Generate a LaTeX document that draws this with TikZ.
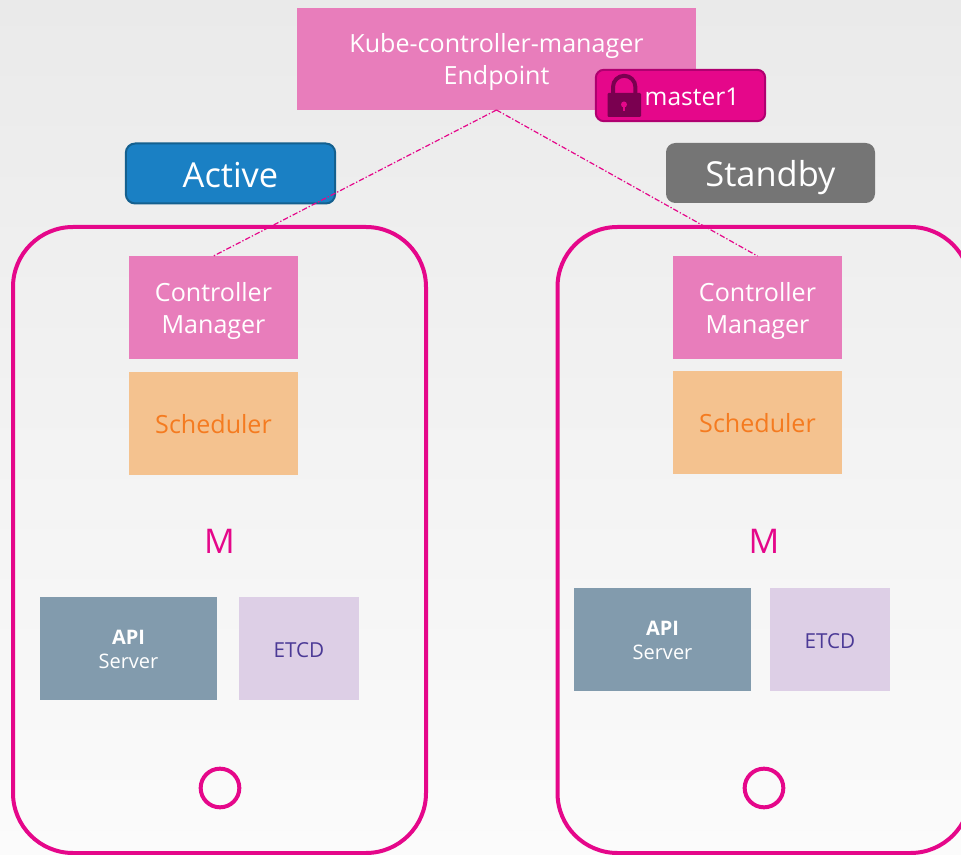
\documentclass[tikz,border=0pt]{standalone}
\usepackage{fontspec}
\setmainfont{Open Sans}
\definecolor{pinkbox}{HTML}{E87DBB}
\definecolor{orangebox}{HTML}{F4C28F}
\definecolor{orangetext}{HTML}{F47B20}
\definecolor{magentaline}{HTML}{E5078A}
\definecolor{steelbox}{HTML}{829BAD}
\definecolor{lilacbox}{HTML}{DDCFE6}
\definecolor{lilactext}{HTML}{4B3A96}
\definecolor{activeblue}{HTML}{1A80C4}
\definecolor{activeedge}{HTML}{14608F}
\definecolor{standbygray}{HTML}{757575}
\definecolor{lockdark}{HTML}{7A0050}
\definecolor{lockedge}{HTML}{B00070}
\definecolor{bgtop}{HTML}{EAEAEA}
\definecolor{bgbottom}{HTML}{FBFBFB}
\newcommand{\toprule}[1]{\rule{0pt}{#1}}
\tikzset{
  box/.style={inner sep=0pt, outer sep=0pt, align=center, text=white,
    font=\fontsize{18.8}{24}\selectfont},
  phoneframe/.style={draw=magentaline, line width=3pt, rounded corners=45pt,
    minimum width=309.75pt, minimum height=469.5pt, inner sep=0pt},
  managerbox/.style={box, fill=pinkbox, minimum width=126.75pt, minimum height=77.25pt},
  schedbox/.style={box, fill=orangebox, text=orangetext, minimum width=126.75pt, minimum height=77.25pt},
  apibox/.style={box, fill=steelbox, minimum width=132.75pt, minimum height=77.25pt,
    font=\fontsize{15}{18}\selectfont},
  etcdbox/.style={box, fill=lilacbox, text=lilactext, minimum width=90pt, minimum height=77.25pt,
    font=\fontsize{15.5}{18}\selectfont},
  letterM/.style={text=magentaline, inner sep=0pt, font=\fontsize{25.5}{30}\selectfont},
  homebutton/.style={circle, draw=magentaline, line width=3pt, minimum size=29pt, inner sep=0pt},
  statebox/.style={box, rounded corners=7pt, minimum height=45pt, text height=21pt, text depth=0pt,
    font=\fontsize{25.8}{30}\selectfont},
  link/.style={magentaline, line width=0.9pt, dash pattern=on 4pt off 1.5pt on 1pt off 1.5pt},
}
\begin{document}
\begin{tikzpicture}[x=0.75pt, y=-0.75pt]
    \useasboundingbox (0,0) rectangle (961,855);
    % background
    \shade[top color=bgtop, bottom color=bgbottom] (0,0) rectangle (961,855);

    % phone frames
    \node[phoneframe] (frameL) at (219.5,540) {};
    \node[phoneframe] (frameR) at (764,540) {};

    % endpoint and its lock
    \node[box, fill=pinkbox, minimum width=299.25pt, minimum height=76.5pt] (endpoint) at (496.5,59)
        {\toprule{19pt}Kube-controller-manager\\Endpoint};
    \node[box, fill=magentaline, draw=lockedge, line width=1.5pt, rounded corners=6pt,
        minimum width=127pt, minimum height=38.5pt] (lockbox) at (680.5,95.5) {};
    \node[box, font=\fontsize{18.4}{24}\selectfont] (lockname) at (692,97) {master1};
    \fill[lockdark, rounded corners=0.8pt] (607.5,93) rectangle (641,117);
    \draw[lockdark, line width=3pt] (613,93) -- (613,87) arc[start angle=180, end angle=360, radius=11.2] -- (635.4,93);
    \fill[magentaline] (624,104.5) circle[radius=3];
    \fill[magentaline] (622.8,105) rectangle (625.2,111);

    % state labels
    \node[statebox, fill=activeblue, draw=activeedge, line width=1.5pt,
        minimum width=157pt] (active) at (230.5,173.5) {Active};
    \node[statebox, fill=standbygray, minimum width=156.75pt] (standby) at (770.5,173) {Standby};

    % left master
    \node[managerbox] (managerL) at (213.5,307.5) {\toprule{20pt}Controller\\Manager};
    \node[schedbox] (schedL) at (213.5,423.5) {\toprule{15pt}Scheduler};
    \node[letterM] (mL) at (219.5,541.5) {M};
    \node[apibox] (apiL) at (128.5,648.5) {\toprule{12.5pt}\textbf{API}\\Server};
    \node[etcdbox] (etcdL) at (299,648.5) {\toprule{13pt}ETCD};
    \node[homebutton] (homeL) at (220,788) {};

    % right master
    \node[managerbox] (managerR) at (757.5,307.5) {\toprule{20pt}Controller\\Manager};
    \node[schedbox] (schedR) at (757.5,422.5) {\toprule{15pt}Scheduler};
    \node[letterM] (mR) at (764,541.5) {M};
    \node[apibox] (apiR) at (662.5,639.5) {\toprule{12.5pt}\textbf{API}\\Server};
    \node[etcdbox] (etcdR) at (830,639.5) {\toprule{13pt}ETCD};
    \node[homebutton] (homeR) at (764,788) {};

    % links
    \draw[link] (endpoint.south) -- (managerL.north);
    \draw[link] (endpoint.south) -- (managerR.north);
\end{tikzpicture}
\end{document}
